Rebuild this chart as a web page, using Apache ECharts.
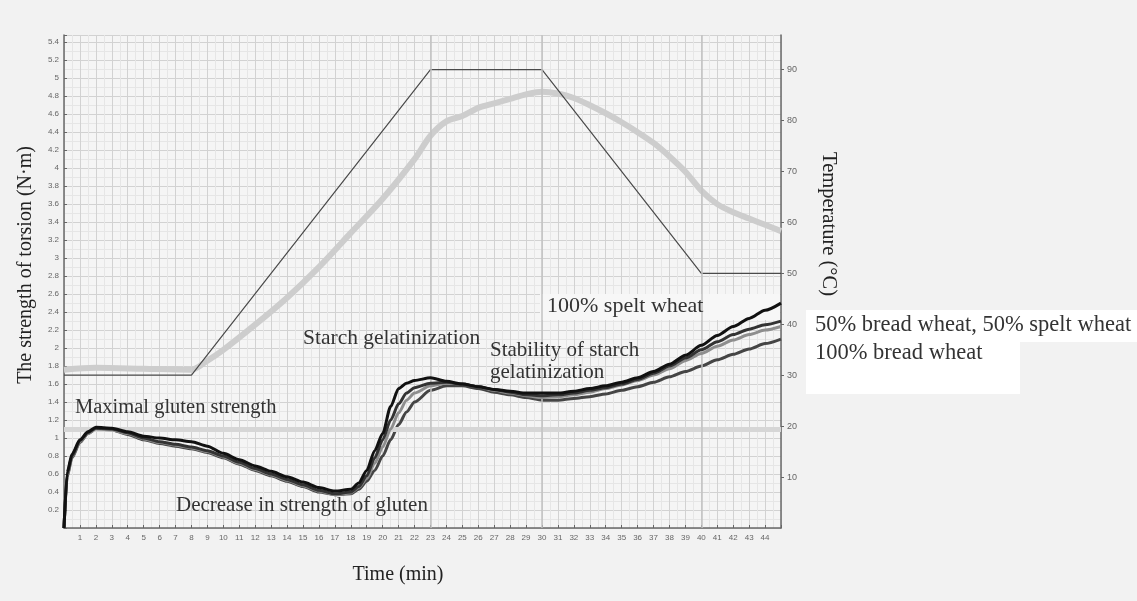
<!DOCTYPE html>
<html><head><meta charset="utf-8">
<script src="https://cdn.jsdelivr.net/npm/echarts@6/dist/echarts.min.js"></script>
<style>html,body{margin:0;padding:0;background:#f2f2f2}#c{width:1137px;height:601px}</style>
</head><body><div id="c"></div>
<script>
// time (min) for torque curves
const time = [0,0.2,0.5,1,1.5,2,3,4,5,6,7,8,9,10,11,12,13,14,15,16,17,18,18.5,19,19.5,20,20.5,21,21.5,22,23,24,25,26,27,28,29,30,31,32,33,34,35,36,37,38,39,40,41,42,43,44,45];
// torque (N·m)
const spelt100 = [0,0.62,0.82,0.98,1.07,1.12,1.11,1.07,1.02,1.0,0.98,0.96,0.91,0.83,0.76,0.69,0.63,0.57,0.51,0.45,0.41,0.43,0.5,0.64,0.86,1.05,1.35,1.55,1.61,1.64,1.67,1.63,1.6,1.57,1.54,1.52,1.5,1.5,1.5,1.52,1.55,1.58,1.62,1.67,1.74,1.82,1.92,2.03,2.14,2.24,2.33,2.42,2.5];
const mixA = [0,0.6,0.8,0.97,1.06,1.11,1.1,1.06,1.0,0.96,0.93,0.9,0.86,0.8,0.73,0.66,0.6,0.54,0.48,0.42,0.38,0.4,0.46,0.58,0.78,0.98,1.2,1.38,1.5,1.56,1.61,1.62,1.6,1.57,1.54,1.51,1.48,1.47,1.48,1.5,1.53,1.56,1.6,1.65,1.72,1.8,1.89,1.98,2.07,2.15,2.21,2.26,2.3];
const mixB = [0,0.58,0.79,0.96,1.05,1.1,1.09,1.05,0.99,0.95,0.92,0.89,0.85,0.79,0.72,0.65,0.59,0.53,0.47,0.41,0.37,0.39,0.45,0.55,0.72,0.9,1.1,1.28,1.42,1.5,1.58,1.61,1.6,1.57,1.53,1.5,1.47,1.45,1.46,1.48,1.51,1.55,1.59,1.64,1.7,1.77,1.86,1.94,2.02,2.09,2.15,2.2,2.24];
const bread100 = [0,0.57,0.78,0.95,1.05,1.1,1.09,1.04,0.98,0.94,0.91,0.88,0.84,0.78,0.71,0.64,0.58,0.52,0.46,0.4,0.37,0.38,0.43,0.52,0.64,0.8,0.98,1.15,1.29,1.4,1.53,1.58,1.58,1.55,1.51,1.48,1.45,1.42,1.42,1.44,1.46,1.49,1.53,1.57,1.62,1.68,1.74,1.8,1.87,1.93,1.99,2.05,2.1];
// light grey thick curve
const greyTime = [0,2,5,8,9,10,12,14,16,18,20,22,23,24,25,26,27,28,29,30,31,32,33,34,35,36,37,38,39,40,41,42,43,44,45];
const greyValues = [1.76,1.78,1.77,1.76,1.86,1.98,2.26,2.56,2.9,3.28,3.66,4.1,4.36,4.52,4.58,4.67,4.72,4.77,4.82,4.85,4.83,4.78,4.7,4.61,4.51,4.4,4.28,4.13,3.96,3.75,3.6,3.51,3.44,3.37,3.3];
// temperature profile (°C)
const tempTime = [0,8,23,30,40,45];
const tempValues = [30,30,90,90,50,50];
const refTorque = 1.1;
const stageTimes = [23,30,40];

const zip = (a,b) => a.map((x,i)=>[x,b[i]]);
const serif = '"Liberation Serif","DejaVu Serif",serif';
const chart = echarts.init(document.getElementById('c'));
const curve = (name, data, color, width, z) => ({
  name, type:'line', data: zip(time, data), yAxisIndex:0, showSymbol:false,
  smooth:0.25, smoothMonotone:'x', lineStyle:{color, width}, z
});
const note = (x, y, text, size) => ({type:'text', x, y, z:20,
  style:{text, font:size+'px '+serif, fill:'#333', align:'left', verticalAlign:'middle'}});
chart.setOption({
  backgroundColor:'#f2f2f2',
  animation:false,
  grid:{left:64, right:356, top:35, bottom:73, show:true, backgroundColor:'#f5f5f5', borderWidth:0},
  xAxis:{type:'value', min:0, max:45, interval:1,
    axisLine:{show:true, onZero:false, lineStyle:{color:'#6a6a6a', width:1.5}},
    axisTick:{show:true, inside:true, length:3, lineStyle:{color:'#666'}},
    axisLabel:{showMinLabel:false, showMaxLabel:false, fontSize:8, color:'#666', margin:6},
    splitLine:{show:true, lineStyle:{color:'#d2d2d2', width:1}},
    minorTick:{show:true, splitNumber:2, length:0},
    minorSplitLine:{show:true, lineStyle:{color:'#e6e6e6', width:1}}
  },
  yAxis:[{type:'value', min:0, max:5.48, interval:0.2, position:'left',
    axisLine:{show:true, lineStyle:{color:'#6a6a6a', width:1.5}},
    axisTick:{show:true, inside:true, length:3, lineStyle:{color:'#666'}},
    axisLabel:{showMinLabel:false, showMaxLabel:false, fontSize:8, color:'#666', margin:5,
      formatter:v=>String(Math.round(v*10)/10)},
    splitLine:{show:true, lineStyle:{color:'#d2d2d2', width:1}},
    minorTick:{show:true, splitNumber:2, length:0},
    minorSplitLine:{show:true, lineStyle:{color:'#e6e6e6', width:1}}
  },{type:'value', min:0, max:96.8, interval:10, position:'right',
    axisLine:{show:true, lineStyle:{color:'#6a6a6a', width:1.5}},
    axisTick:{show:true, inside:false, length:3, lineStyle:{color:'#666'}},
    axisLabel:{showMinLabel:false, showMaxLabel:false, fontSize:9, color:'#666', margin:6},
    splitLine:{show:false}
  }],
  series:[
    {name:'grey', type:'line', data:zip(greyTime, greyValues), yAxisIndex:0, showSymbol:false,
     smooth:0.3, lineStyle:{color:'#cdcdcd', width:6}, z:2,
     markLine:{silent:true, symbol:'none', label:{show:false},
       data:[{yAxis:refTorque, lineStyle:{color:'#d6d6d6', width:5, type:'solid'}}].concat(
         stageTimes.map(t=>({xAxis:t, lineStyle:{color:'#c2c2c2', width:1.5, type:'solid'}})))}},
    {name:'temp', type:'line', data:zip(tempTime, tempValues), yAxisIndex:1, showSymbol:false,
     lineStyle:{color:'#4a4a4a', width:1.2}, z:3},
    curve('100% bread wheat', bread100, '#454545', 3, 4),
    curve('mixB', mixB, '#8e8e8e', 3, 5),
    curve('mixA', mixA, '#333333', 3, 6),
    curve('100% spelt wheat', spelt100, '#111111', 3, 7)
  ],
  graphic:[
    {type:'rect', shape:{x:806, y:310, width:331, height:32}, style:{fill:'#ffffff'}, z:0},
    {type:'rect', shape:{x:806, y:340, width:214, height:54}, style:{fill:'#ffffff'}, z:0},
    {type:'rect', shape:{x:540, y:294, width:240, height:26}, style:{fill:'#f7f7f7'}, z:1},
    {type:'text', x:26, y:265, rotation:Math.PI/2, style:{text:'The strength of torsion (N·m)', font:'20px '+serif, fill:'#222', align:'center', verticalAlign:'middle'}},
    {type:'text', x:828, y:224, rotation:-Math.PI/2, style:{text:'Temperature (°C)', font:'20.5px '+serif, fill:'#222', align:'center', verticalAlign:'middle'}},
    {type:'text', x:398, y:575, style:{text:'Time (min)', font:'20px '+serif, fill:'#222', align:'center', verticalAlign:'middle'}},
    note(75, 408, 'Maximal gluten strength', 20.5),
    note(176, 505, 'Decrease in strength of gluten', 21),
    note(303, 338, 'Starch gelatinization', 21.5),
    note(490, 350, 'Stability of starch', 21),
    note(490, 372, 'gelatinization', 21),
    note(547, 306, '100% spelt wheat', 22),
    note(815, 325, '50% bread wheat, 50% spelt wheat', 22.5),
    note(815, 353, '100% bread wheat', 22.5)
  ]
});
</script></body></html>
